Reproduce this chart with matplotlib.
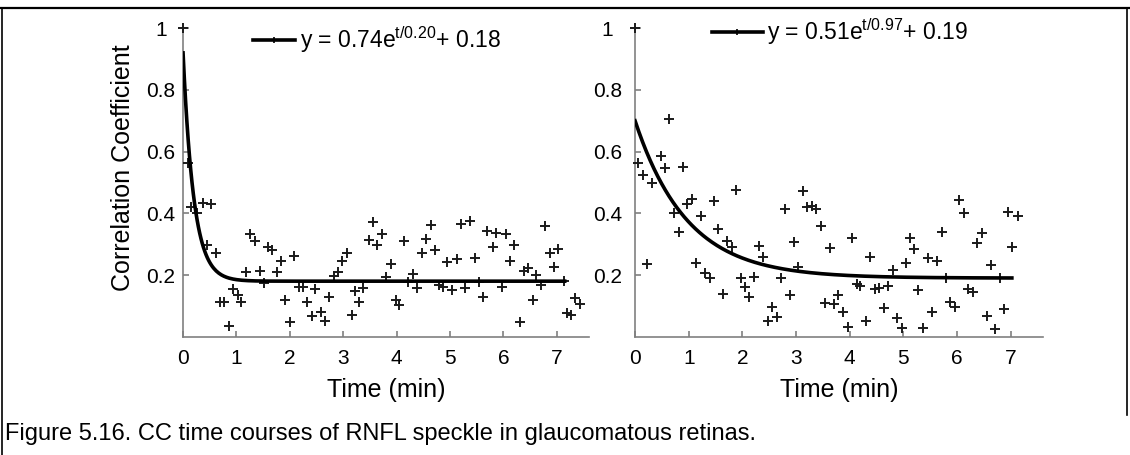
import numpy as np
import matplotlib
matplotlib.use("Agg")
import matplotlib.pyplot as plt
from matplotlib.lines import Line2D

plt.rcParams['font.family'] = ['Liberation Sans', 'DejaVu Sans']

## CC values (time in min)
left_t = [0.0, 0.09, 0.15, 0.26, 0.38, 0.44, 0.52, 0.61, 0.69, 0.77, 0.86, 0.94, 1.02, 1.09,
          1.18, 1.26, 1.34, 1.44, 1.51, 1.60, 1.67, 1.76, 1.84, 1.91, 2.00, 2.08, 2.17, 2.25,
          2.33, 2.41, 2.47, 2.58, 2.66, 2.74, 2.82, 2.91, 2.98, 3.07, 3.16, 3.23, 3.30, 3.38,
          3.48, 3.56, 3.64, 3.73, 3.81, 3.89, 3.99, 4.05, 4.13, 4.21, 4.30, 4.38, 4.47, 4.56,
          4.64, 4.72, 4.79, 4.87, 4.95, 5.03, 5.13, 5.21, 5.29, 5.37, 5.47, 5.55, 5.61, 5.70,
          5.80, 5.87, 5.97, 6.05, 6.13, 6.20, 6.31, 6.38, 6.46, 6.55, 6.62, 6.70, 6.78, 6.87,
          6.95, 7.03, 7.13, 7.20, 7.27, 7.35, 7.43]
left_cc = [1.0, 0.562, 0.42, 0.40, 0.434, 0.297, 0.43, 0.27, 0.113, 0.113, 0.035, 0.156, 0.134, 0.113,
           0.21, 0.333, 0.311, 0.214, 0.173, 0.292, 0.281, 0.21, 0.245, 0.119, 0.049, 0.26, 0.16, 0.16,
           0.113, 0.067, 0.154, 0.081, 0.052, 0.13, 0.197, 0.211, 0.246, 0.272, 0.069, 0.149, 0.113, 0.159,
           0.313, 0.371, 0.297, 0.333, 0.195, 0.235, 0.119, 0.102, 0.310, 0.178, 0.202, 0.159, 0.272, 0.316,
           0.362, 0.281, 0.168, 0.16, 0.243, 0.151, 0.251, 0.365, 0.157, 0.374, 0.254, 0.176, 0.13, 0.344,
           0.292, 0.337, 0.16, 0.332, 0.246, 0.297, 0.049, 0.213, 0.224, 0.119, 0.2, 0.168, 0.359, 0.27,
           0.227, 0.283, 0.181, 0.078, 0.069, 0.126, 0.106]

## CC values
right_t = [0.0, 0.06, 0.14, 0.22, 0.31, 0.48, 0.56, 0.64, 0.73, 0.81, 0.89, 0.96, 1.06, 1.13,
           1.23, 1.30, 1.39, 1.47, 1.55, 1.63, 1.71, 1.80, 1.88, 1.97, 2.05, 2.13, 2.22, 2.30,
           2.38, 2.47, 2.56, 2.64, 2.71, 2.79, 2.88, 2.97, 3.03, 3.13, 3.20, 3.29, 3.37, 3.46,
           3.54, 3.63, 3.71, 3.79, 3.88, 3.96, 4.05, 4.13, 4.20, 4.30, 4.38, 4.47, 4.55, 4.64,
           4.72, 4.80, 4.88, 4.97, 5.04, 5.12, 5.20, 5.28, 5.37, 5.45, 5.54, 5.62, 5.71, 5.79,
           5.87, 5.96, 6.04, 6.12, 6.21, 6.29, 6.37, 6.46, 6.55, 6.63, 6.71, 6.80, 6.87, 6.95,
           7.03, 7.13]
right_cc = [1.0, 0.562, 0.524, 0.236, 0.499, 0.586, 0.546, 0.705, 0.402, 0.34, 0.549, 0.43, 0.447, 0.238,
            0.391, 0.207, 0.189, 0.44, 0.348, 0.138, 0.311, 0.292, 0.476, 0.189, 0.16, 0.128, 0.192, 0.295,
            0.257, 0.051, 0.097, 0.065, 0.191, 0.414, 0.135, 0.308, 0.225, 0.472, 0.421, 0.425, 0.414, 0.359,
            0.108, 0.287, 0.105, 0.135, 0.079, 0.03, 0.319, 0.17, 0.165, 0.051, 0.257, 0.155, 0.157, 0.094,
            0.165, 0.216, 0.062, 0.027, 0.238, 0.319, 0.283, 0.151, 0.027, 0.254, 0.079, 0.245, 0.338, 0.191,
            0.113, 0.097, 0.443, 0.402, 0.155, 0.144, 0.303, 0.335, 0.068, 0.232, 0.025, 0.189, 0.09, 0.405,
            0.29, 0.391]

## fit parameters from the legends: y = A e^(-t/tau) + c, plus where the drawn fit stops
left_fit = (0.74, 0.20, 0.18, 7.15)
right_fit = (0.51, 0.97, 0.19, 7.02)
left_label = "y = 0.74e$\\mathregular{^{t/0.20}}$+ 0.18"
right_label = "y = 0.51e$\\mathregular{^{t/0.97}}$+ 0.19"

x_ticks = [0, 1, 2, 3, 4, 5, 6, 7]
y_ticks = [0.2, 0.4, 0.6, 0.8, 1.0]
y_ticklabels = ["0.2", "0.4", "0.6", "0.8", "1"]

FS = 15       # tick labels
LFS = 18      # axis labels
GFS = 16.5    # legend
grey = '#808080'

fig = plt.figure(figsize=(11.3, 4.55), dpi=100)


def draw_panel(rect, t, cc, fit, label, leg_xy, handlelen, ypad):
	ax = fig.add_axes(rect)
	ax.plot(t, cc, linestyle='none', marker='+', color='#1a1a1a', markersize=6.5,
	        markeredgewidth=1.4, clip_on=False, zorder=3)
	A, tau, c, t_end = fit
	tt = np.linspace(0, t_end, 300)
	ax.plot(tt, A*np.exp(-tt/tau) + c, color='black', lw=2.6, zorder=4)
	ax.set_xlim(0, 7.6)
	ax.set_ylim(0, 1)
	ax.set_xticks(x_ticks)
	ax.set_yticks(y_ticks)
	ax.set_yticklabels(y_ticklabels)
	for s in ['top', 'right']:
		ax.spines[s].set_visible(False)
	for s in ['left', 'bottom']:
		ax.spines[s].set_color(grey)
		ax.spines[s].set_linewidth(1.2)
	ax.tick_params(axis='x', direction='in', length=4, width=1.2, color=grey, labelsize=FS, pad=9)
	ax.tick_params(axis='y', direction='in', length=4, width=1.2, color=grey, labelsize=FS, pad=ypad)
	for lab in ax.get_yticklabels():
		lab.set_horizontalalignment('center')
	ax.set_xlabel("Time (min)", fontsize=LFS, labelpad=7)
	h = Line2D([], [], color='black', lw=2.6, marker='+', markersize=5, markeredgewidth=1.2)
	ax.legend([h], [label], loc='center left', bbox_to_anchor=leg_xy, frameon=False,
	          fontsize=GFS, handlelength=handlelen, handletextpad=0.2, borderpad=0,
	          borderaxespad=0)
	return ax


ax1 = draw_panel([0.162, 0.26, 0.359, 0.678], left_t, left_cc, left_fit, left_label,
                 (0.172, 0.962), 1.85, 16)
ax1.set_ylabel("Correlation Coefficient", fontsize=LFS)
ax1.yaxis.set_label_coords(-0.118, 0.548)
ax2 = draw_panel([0.562, 0.26, 0.361, 0.678], right_t, right_cc, right_fit, right_label,
                 (0.189, 0.99), 2.2, 20)

## frame lines and caption
fig.add_artist(Line2D([0, 1], [0.982, 0.982], color='black', lw=1.6))
fig.add_artist(Line2D([0.002, 0.002], [0, 0.982], color='black', lw=1.2))
fig.add_artist(Line2D([0.997, 0.997], [0.088, 0.982], color='black', lw=1.2))
fig.text(0.004, 0.033, "Figure 5.16. CC time courses of RNFL speckle in glaucomatous retinas.",
         fontsize=17, ha='left', va='baseline')

plt.savefig("out.png", dpi=100)
